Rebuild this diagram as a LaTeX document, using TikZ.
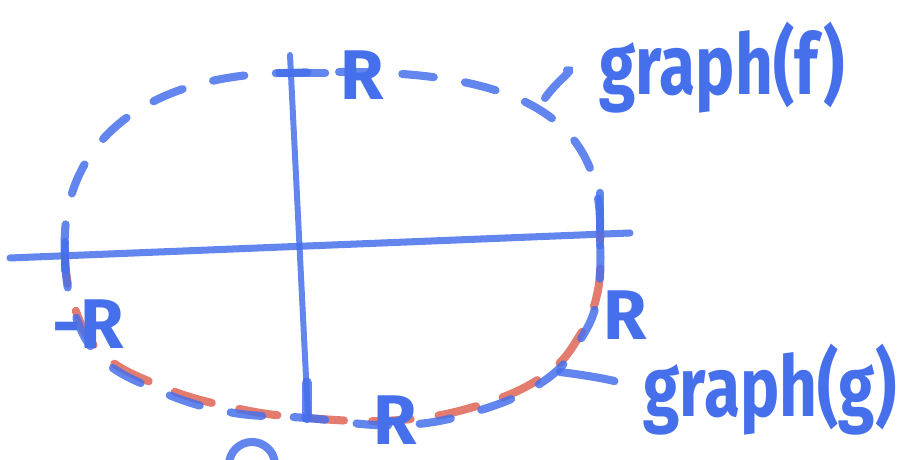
\documentclass[tikz,border=0pt]{standalone}
\usepackage{fontspec}
\setmainfont{Fira Sans}
\definecolor{penblue}{RGB}{70,112,235}
\definecolor{penred}{RGB}{222,100,85}

\begin{document}
\begin{tikzpicture}[
    pen/.style={penblue, line width=2.3pt, line cap=round, opacity=0.85},
    redpen/.style={penred, line width=2.3pt, line cap=round, opacity=0.85},
    gaps/.style={dash pattern=on 9pt off 9pt},
    every node/.style={text=penblue, inner sep=0pt, font=\fontsize{20}{24}\selectfont\bfseries}]
    \useasboundingbox (0,0) rectangle (9.06,4.60);

    % Axes
    \coordinate (xl) at (0.10,2.02);
    \coordinate (xr) at (6.30,2.27);
    \coordinate (yt) at (2.90,4.05);
    \coordinate (yb) at (3.08,0.43);
    \draw[pen, line width=2pt] (xl) -- (xr);
    \draw[pen, line width=1.7pt] (yt) -- (yb);

    % Points where the curves meet the axes
    \coordinate (L) at (0.65,2.04);
    \coordinate (Rt) at (6.00,2.25);
    \coordinate (T) at (2.90,3.87);
    \coordinate (B) at (3.07,0.42);

    % graph(f), upper half
    \draw[pen, gaps] (L) .. controls (0.58,3.2) and (1.5,3.87) .. (T)
        .. controls (4.9,3.95) and (6.05,3.6) .. (Rt);

    % graph(g), lower half
    \draw[redpen, dash pattern=on 11pt off 8pt, dash phase=3pt]
        plot[smooth, tension=0.7] coordinates {(L) (0.72,1.60) (1.0,1.08) (1.6,0.74)
        (2.3,0.53) (B) (4.0,0.40) (4.8,0.55) (5.45,0.85) (5.8,1.25) (5.98,1.7) (Rt)};
    \draw[pen, gaps, yshift=-1.5pt]
        plot[smooth, tension=0.7] coordinates {(L) (0.72,1.60) (1.0,1.08) (1.6,0.74)
        (2.3,0.53) (B) (4.0,0.40) (4.8,0.55) (5.45,0.85) (5.8,1.25) (5.98,1.7) (Rt)};

    % Ticks
    \draw[pen] ([yshift=4pt]L) -- ([yshift=-4pt]L);
    \draw[pen] ([yshift=12pt]Rt) -- ([yshift=-3pt]Rt);
    \draw[pen] ([xshift=-3pt]T) -- ([xshift=10pt]T);
    \draw[pen, line width=3pt] ([yshift=10pt]B) -- (B);

    % Labels
    \node (rtop) at (3.62,3.85) {R};
    \node (rleft) at (0.88,1.36) {-R};
    \node (rright) at (6.25,1.45) {R};
    \node (rbot) at (3.95,0.40) {R};
    \node[font=\fontsize{24}{28}\selectfont\bfseries, xscale=0.78] (graphf) at (7.22,3.92) {graph(f)};
    \node[font=\fontsize{24}{28}\selectfont\bfseries, xscale=0.78] (graphg) at (7.70,0.70) {graph(g)};

    % Leaders to the names
    \coordinate (fpt) at (5.45,3.62);
    \coordinate (gpt) at (5.60,0.88);
    \draw[pen, shorten >=0.32cm] (fpt) to[bend left=25] (graphf.west);
    \draw[pen, shorten >=0.30cm] (gpt) to[bend left=5] (graphg.west);

    % stroke cut off at the bottom edge
    \draw[pen] (2.29,-0.05) arc[start angle=180, end angle=10, radius=0.23];
\end{tikzpicture}
\end{document}
